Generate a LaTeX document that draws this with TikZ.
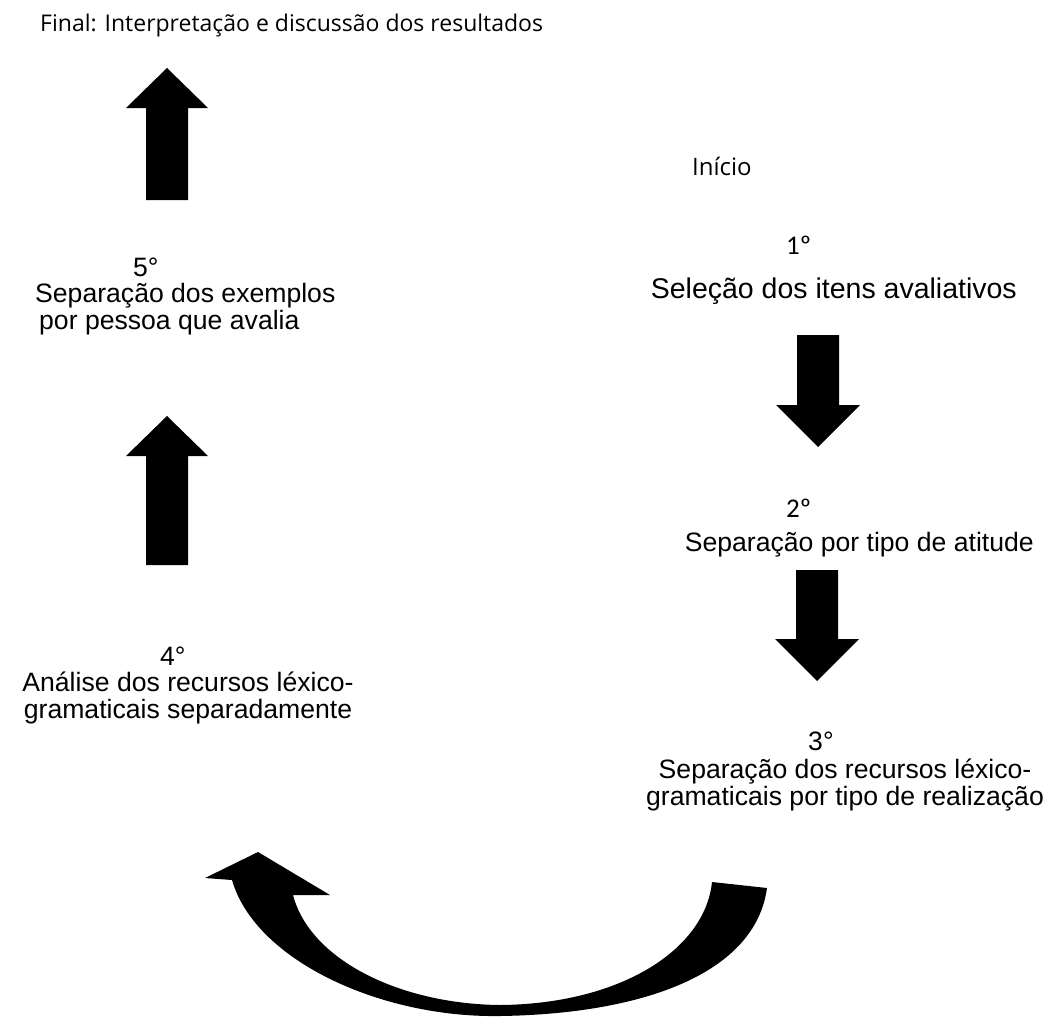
\documentclass[tikz,border=0pt]{standalone}
\usepackage{fontspec}
\setmainfont{Liberation Sans}
\newfontfamily\opensans{Open Sans}
\newfontfamily\calibri{Carlito}
\usetikzlibrary{positioning}

\tikzset{
    pics/uparr/.style={code={
        \fill (0,0) -- (41,40) -- (21,40) -- (21,#1) -- (-21,#1) -- (-21,40) -- (-41,40) -- cycle;}},
    pics/downarr/.style={code={
        \fill (0,0) -- (42,-42) -- (21,-42) -- (21,-#1) -- (-21,-#1) -- (-21,-42) -- (-42,-42) -- cycle;}},
    steptxt/.style={inner sep=0pt, font=\fontsize{26.6}{26.5}\selectfont},
    headtxt/.style={inner sep=0pt, font=\opensans\fontsize{23}{27}\selectfont},
    numtxt/.style={inner sep=0pt, font=\calibri\fontsize{27}{30}\selectfont}
}

\begin{document}
\begin{tikzpicture}[x=1pt,y=-1pt]
    \useasboundingbox (0,0) rectangle (1046,1020);

    \node[headtxt, anchor=base west] (final) at (40,31) {Final: Interpretação e discussão dos resultados};
    \node[headtxt, font=\opensans\fontsize{24}{28}\selectfont, anchor=base west] (inicio) at (692,175) {Início};

    % right column
    \node[numtxt, anchor=base west] (n1) at (786,254) {1º};
    \node[steptxt, font=\fontsize{28.5}{28}\selectfont, anchor=base east] (s1) at (1017,298) {Seleção dos itens avaliativos};
    \pic at (818,447) {downarr=112};

    \node[numtxt, anchor=base west] (n2) at (786,517) {2º};
    \node[steptxt, anchor=base east] (s2) at (1034,551) {Separação por tipo de atitude};
    \pic at (817,681) {downarr=111};

    \node[steptxt, anchor=base west] (n3) at (808,750) {3°};
    \node[steptxt, anchor=base, align=center] (s3) at (845,805) {Separação dos recursos léxico-\\gramaticais por tipo de realização};

    % turn back to the left
    \fill (232,880) .. controls (255,960) and (380,1018) .. (500,1016)
        .. controls (640,1014) and (755,975) .. (767,888)
        -- (712,882) .. controls (705,950) and (620,1004) .. (500,1005)
        .. controls (400,1004) and (310,960) .. (293,895)
        -- (330,895) -- (258,852) -- (205,878) -- cycle;

    % left column
    \node[steptxt, anchor=base west] (n4) at (160,665) {4°};
    \node[steptxt, anchor=base, align=center] (s4) at (188,718) {Análise dos recursos léxico-\\gramaticais separadamente};
    \pic at (167,416) {uparr=149};

    \node[steptxt, anchor=base west] (n5) at (133,276) {5°};
    \node[steptxt, anchor=base west, align=left] (s5) at (35,329) {Separação dos exemplos\\\hspace{4pt}por pessoa que avalia};
    \pic at (167,68) {uparr=132};
\end{tikzpicture}
\end{document}
